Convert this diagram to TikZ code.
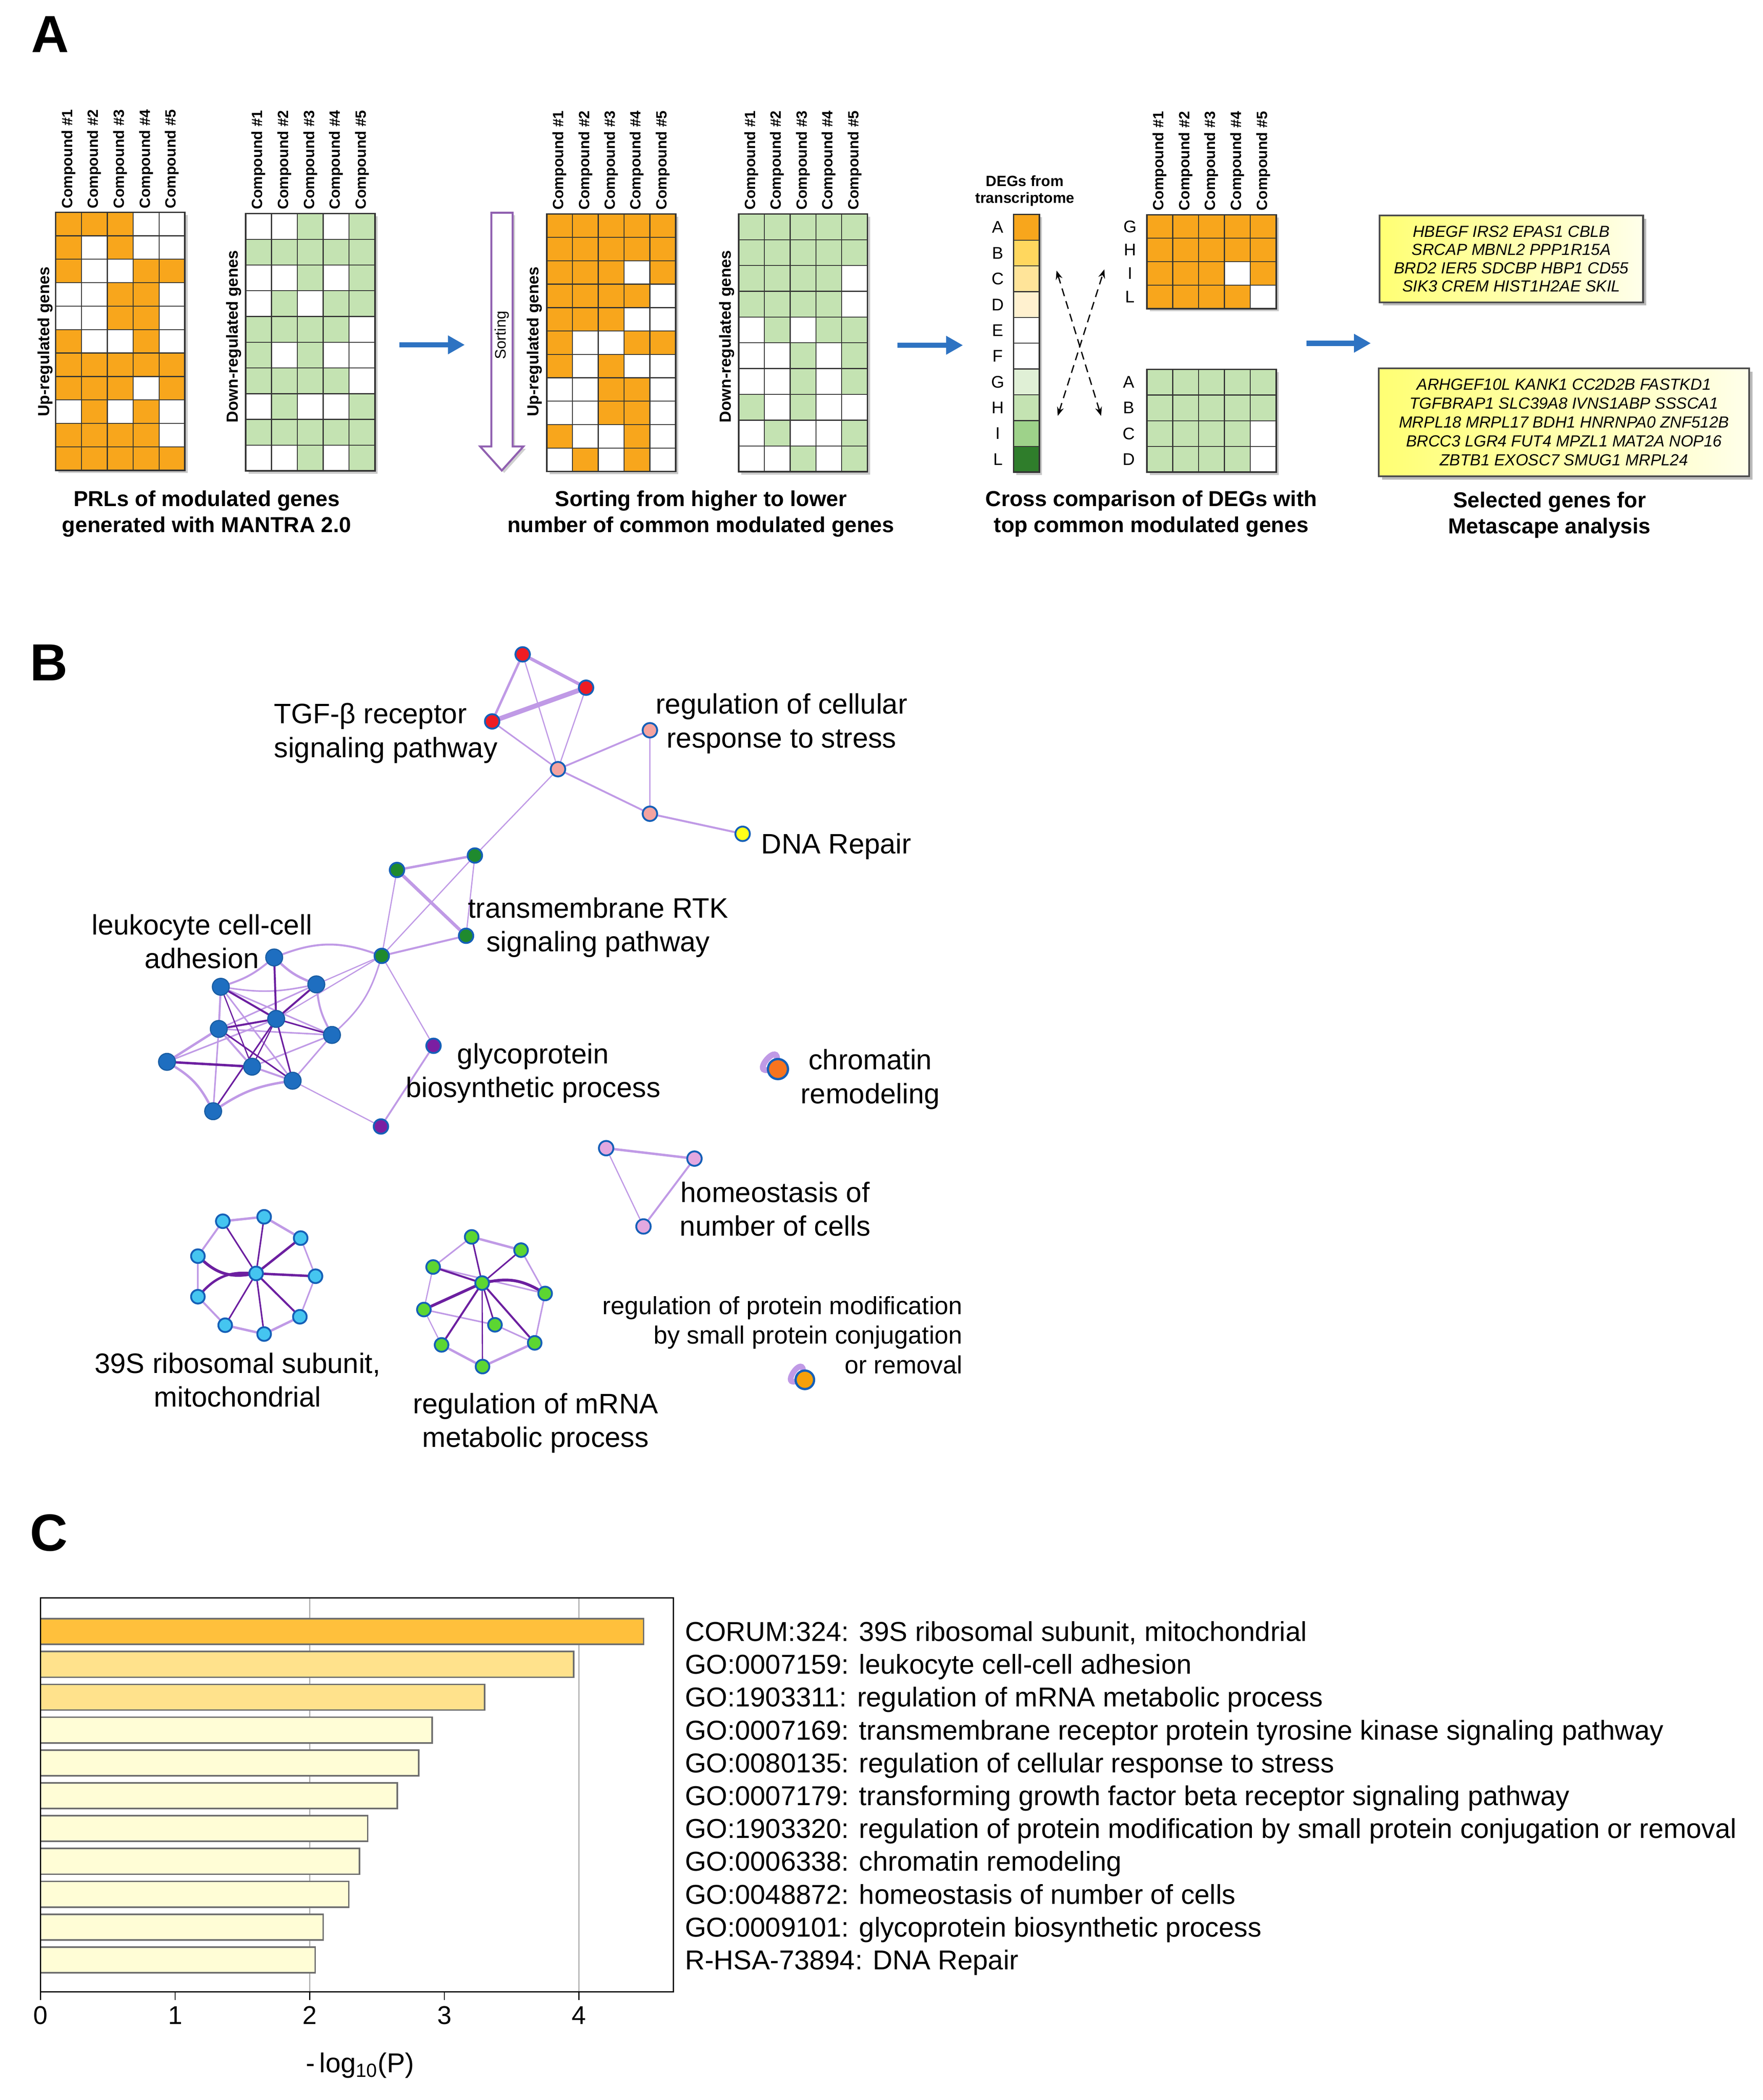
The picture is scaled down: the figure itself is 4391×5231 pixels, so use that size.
\documentclass[tikz,border=0pt]{standalone}
\usepackage{fontspec}
\setmainfont{Liberation Sans}
\usetikzlibrary{arrows.meta,shadows}
\pgfdeclarelayer{bgzero}
\pgfdeclarelayer{edges}
\pgfsetlayers{bgzero,edges,main}
\newcommand\fpx[1]{\fontsize{\dimexpr #1pt*2845/10000\relax}{\dimexpr #1pt*3414/10000\relax}\selectfont}
\newcommand\fpxl[2]{\fontsize{\dimexpr #1pt*2845/10000\relax}{\dimexpr #2pt*2845/10000\relax}\selectfont}
\definecolor{orangeg}{HTML}{F8A61C}
\definecolor{greeng}{HTML}{C4E3B2}
\definecolor{degB}{HTML}{FFD75E}
\definecolor{degC}{HTML}{FFE499}
\definecolor{degD}{HTML}{FFF1CF}
\definecolor{degG}{HTML}{E0F0D6}
\definecolor{degI}{HTML}{9ED28A}
\definecolor{degL}{HTML}{2F7D2B}
\definecolor{gridc}{HTML}{333333}
\definecolor{sortc}{HTML}{9060B0}
\definecolor{arrowblue}{HTML}{2E73C2}
\definecolor{nbord}{HTML}{1560B8}
\definecolor{cred}{HTML}{EE1C24}
\definecolor{csalmon}{HTML}{F4A3A0}
\definecolor{cyellow}{HTML}{FFFF1A}
\definecolor{cdgreen}{HTML}{1F8A2E}
\definecolor{cblue}{HTML}{1E6EC0}
\definecolor{cpurple}{HTML}{7B1FA2}
\definecolor{clilac}{HTML}{E3A8E0}
\definecolor{ccyan}{HTML}{45C5F0}
\definecolor{clgreen}{HTML}{5CD632}
\definecolor{corange}{HTML}{F7741E}
\definecolor{corangeb}{HTML}{F5A00A}
\definecolor{elight}{HTML}{C09AE6}
\definecolor{edark}{HTML}{6C1FA0}
\definecolor{barA}{HTML}{FFC03C}
\definecolor{barB}{HTML}{FFE28C}
\definecolor{barC}{HTML}{FFFDD6}
\definecolor{barline}{HTML}{6E6E6E}
\definecolor{vgrid}{HTML}{B4B4B4}
\tikzset{
  gridline/.style={draw=gridc, line width=0.7pt},
  gridframe/.style={draw=gridc, line width=1.1pt},
  complab/.style={rotate=90, anchor=west, inner sep=0pt, font=\bfseries\fpx{37}},
  genelab/.style={rotate=90, inner sep=0pt, font=\bfseries\fpx{40}},
  letlab/.style={inner sep=0pt, font=\fpx{42}},
  caplab/.style={font=\bfseries\fpxl{54}{65}, align=center, inner sep=0pt, anchor=north},
  panlab/.style={font=\bfseries\fpx{130}, inner sep=0pt, anchor=north west},
  genebox/.style={draw=black!70, line width=1.3pt, left color=yellow!55, right color=yellow!8,
     drop shadow={shadow xshift=0.08cm, shadow yshift=-0.08cm, fill=black!45, opacity=0.6},
     align=center, inner sep=0pt},
  bluearrow/.style={draw=arrowblue, line width=3.8pt, -{Triangle[length=0.42cm,width=0.44cm]}},
  dasharrow/.style={draw=black, line width=0.9pt, dash pattern=on 0.2cm off 0.13cm,
     {Stealth[length=0.22cm,width=0.17cm]}-{Stealth[length=0.22cm,width=0.17cm]}},
  blab/.style={font=\fpxl{70}{84}, align=center, inner sep=0pt, anchor=north},
  nd/.style={circle, inner sep=0pt, minimum size=0.36cm, draw=nbord, line width=1.3pt},
  nred/.style={nd, fill=cred},
  nsal/.style={nd, fill=csalmon},
  nyel/.style={nd, fill=cyellow},
  ndg/.style={nd, fill=cdgreen},
  nblue/.style={nd, fill=cblue, draw=cblue!85!black, minimum size=0.42cm, line width=0.8pt},
  npur/.style={nd, fill=cpurple},
  nlil/.style={nd, fill=clilac},
  ncy/.style={nd, fill=ccyan, minimum size=0.34cm},
  nlg/.style={nd, fill=clgreen, minimum size=0.34cm},
  ledge/.style={draw=elight, line width=#1, line cap=round},
  dedge/.style={draw=edark, line width=#1, line cap=round},
  barst/.style={draw=barline, line width=1.1pt},
  termlab/.style={font=\fpx{68}, anchor=base west, inner sep=0pt},
  ticklab/.style={font=\fpx{64}, anchor=north, inner sep=0pt}
}
% #1 x0, #2 y0, #3 rows, #4 cell w, #5 cell h, #6 colour, #7 pattern
\newcommand\drawgrid[7]{%
  \fill[black!35,opacity=0.6] ({#1+7},{#2+7}) rectangle ({#1+5*#4+7},{#2+#3*#5+7});
  \fill[white] (#1,#2) rectangle ({#1+5*#4},{#2+#3*#5});
  \foreach \row [count=\ri from 0] in {#7} {
    \foreach \v [count=\ci from 0] in \row {
      \ifnum\v=1 \fill[#6] ({#1+\ci*#4},{#2+\ri*#5}) rectangle ({#1+(\ci+1)*#4},{#2+(\ri+1)*#5});\fi
    }
  }
  \foreach \i in {1,...,4} \draw[gridline] ({#1+\i*#4},#2) -- ({#1+\i*#4},{#2+#3*#5});
  \pgfmathtruncatemacro\nrows{#3-1}
  \foreach \j in {1,...,\nrows} \draw[gridline] (#1,{#2+\j*#5}) -- ({#1+5*#4},{#2+\j*#5});
  \draw[gridframe] (#1,#2) rectangle ({#1+5*#4},{#2+#3*#5});
}
% #1 prefix, #2 x0, #3 cell w, #4 y bottom
\newcommand\complabels[4]{%
  \foreach \cn in {1,...,5} \node[complab] (#1-\cn) at ({#2+(\cn-0.5)*#3},#4) {Compound \#\cn};
}
\begin{document}
\begin{tikzpicture}[x=0.01cm,y=-0.01cm]
\useasboundingbox (0,0) rectangle (4391,5231);
\begin{pgfonlayer}{bgzero}
\fill[white] (0,0) rectangle (4391,5231);
\end{pgfonlayer}

% ================= PANEL A =================
\node[panlab] (lblA) at (77,40) {A};

\drawgrid{138.6}{529}{11}{64.4}{58.4}{orangeg}{{1,1,1,0,0},{1,0,1,0,0},{1,0,0,1,1},{0,0,1,1,0},{0,0,1,1,0},{1,0,0,1,0},{1,1,1,1,1},{1,1,1,0,1},{0,1,0,1,0},{1,1,1,1,0},{1,1,1,1,1}}
\complabels{ca}{138.6}{64.4}{520}
\node[genelab] (upA) at (113,851) {Up-regulated genes};

\drawgrid{612}{532}{10}{64.4}{64.1}{greeng}{{0,0,1,0,1},{1,1,1,1,1},{0,0,1,0,1},{0,1,0,1,1},{1,1,1,1,0},{1,0,1,0,0},{1,1,1,1,0},{0,1,0,0,1},{1,1,1,1,1},{0,0,1,0,1}}
\complabels{cb}{612}{64.4}{522}
\node[genelab] (dnA) at (582,838) {Down-regulated genes};

\node[caplab] (cap1) at (515,1221) {PRLs of modulated genes\\generated with MANTRA 2.0};

\coordinate (ba1s) at (995,859);
\coordinate (ba1e) at (1158,859);
\draw[bluearrow] (ba1s) -- (ba1e);

% sorting arrow
\fill[black!30,opacity=0.6,shift={(6,6)}] (1224,530) -- (1277,530) -- (1277,1112) -- (1304,1112) -- (1250,1172) -- (1196,1112) -- (1224,1112) -- cycle;
\draw[sortc, line width=1.4pt, fill=white, line join=miter] (1224,530) -- (1277,530) -- (1277,1112) -- (1304,1112) -- (1250,1172) -- (1196,1112) -- (1224,1112) -- cycle;
\node[rotate=90, inner sep=0pt, font=\fpx{38}] (sorttxt) at (1250,835) {Sorting};

\drawgrid{1362}{533}{11}{64.2}{58.3}{orangeg}{{1,1,1,1,1},{1,1,1,1,1},{1,1,1,0,1},{1,1,1,1,0},{1,1,1,0,0},{1,0,0,1,1},{1,0,1,0,0},{0,0,1,1,0},{0,0,1,1,0},{1,0,0,1,0},{0,1,0,1,0}}
\complabels{cc}{1362}{64.2}{523}
\node[genelab] (upB) at (1331,851) {Up-regulated genes};

\drawgrid{1840}{533}{10}{64.2}{64.2}{greeng}{{1,1,1,1,1},{1,1,1,1,1},{1,1,1,1,0},{1,1,1,1,0},{0,1,0,1,1},{0,0,1,0,1},{0,0,1,0,1},{1,0,1,0,0},{0,1,0,0,1},{0,0,1,0,1}}
\complabels{cd}{1840}{64.2}{523}
\node[genelab] (dnB) at (1811,838) {Down-regulated genes};

\node[caplab] (cap2) at (1746,1221) {Sorting from higher to lower\\number of common modulated genes};

\coordinate (ba2s) at (2236,860);
\coordinate (ba2e) at (2399,860);
\draw[bluearrow] (ba2s) -- (ba2e);

% DEG column
\node[font=\bfseries\fpxl{37}{42}, align=center, anchor=north, inner sep=0pt] (degtitle) at (2553,436) {DEGs from\\transcriptome};
\fill[black!35,opacity=0.6] (2532,541) rectangle (2596,1183);
\foreach \col [count=\i from 0] in {orangeg,degB,degC,degD,white,white,degG,greeng,degI,degL}
  \fill[\col] (2525,{534+\i*64.2}) rectangle (2589,{534+(\i+1)*64.2});
\foreach \j in {1,...,9} \draw[gridline] (2525,{534+\j*64.2}) -- (2589,{534+\j*64.2});
\draw[gridframe] (2525,534) rectangle (2589,1176);
\foreach \l [count=\i from 0] in {A,B,C,D,E,F,G,H,I,L}
  \node[letlab] (deg-\l) at (2486,{534+(\i+0.5)*64.2}) {\l};

\coordinate (dx1a) at (2635,1036);
\coordinate (dx1b) at (2751,671);
\coordinate (dx2a) at (2632,674);
\coordinate (dx2b) at (2743,1036);
\draw[dasharrow] (dx1a) -- (dx1b);
\draw[dasharrow] (dx2a) -- (dx2b);

\drawgrid{2857}{535}{4}{64.4}{58.4}{orangeg}{{1,1,1,1,1},{1,1,1,1,1},{1,1,1,0,1},{1,1,1,1,0}}
\complabels{ce}{2857}{64.4}{525}
\foreach \l [count=\i from 0] in {G,H,I,L}
  \node[letlab] (up-\l) at (2815,{535+(\i+0.5)*58.4}) {\l};

\drawgrid{2857}{920}{4}{64.4}{64}{greeng}{{1,1,1,1,1},{1,1,1,1,1},{1,1,1,1,0},{1,1,1,1,0}}
\foreach \l [count=\i from 0] in {A,B,C,D}
  \node[letlab] (dn-\l) at (2812,{920+(\i+0.5)*64}) {\l};

\node[caplab] (cap3) at (2868,1221) {Cross comparison of DEGs with\\top common modulated genes};

\coordinate (ba3s) at (3255,855);
\coordinate (ba3e) at (3415,855);
\draw[bluearrow] (ba3s) -- (ba3e);

\node[genebox, minimum width=6.56cm, minimum height=2.16cm, font=\itshape\fpxl{40}{45.5}] (gb1) at (3765,645)
  {HBEGF IRS2 EPAS1 CBLB\\SRCAP MBNL2 PPP1R15A\\BRD2 IER5 SDCBP HBP1 CD55\\SIK3 CREM HIST1H2AE SKIL};
\node[genebox, minimum width=9.22cm, minimum height=2.69cm, font=\itshape\fpxl{40}{47}] (gb2) at (3896,1052)
  {ARHGEF10L KANK1 CC2D2B FASTKD1\\TGFBRAP1 SLC39A8 IVNS1ABP SSSCA1\\MRPL18 MRPL17 BDH1 HNRNPA0 ZNF512B\\BRCC3 LGR4 FUT4 MPZL1 MAT2A NOP16\\ZBTB1 EXOSC7 SMUG1 MRPL24};

\node[caplab] (cap4) at (3860,1224) {Selected genes for\\Metascape analysis};

% ================= PANEL B =================
\node[panlab] (lblB) at (74,1605) {B};

\node[nred] (red1) at (1302,1630) {};
\node[nred] (red2) at (1460,1713) {};
\node[nred] (red3) at (1226,1797) {};
\node[nsal] (pk1) at (1390,1916) {};
\node[nsal] (pk2) at (1619,1819) {};
\node[nsal] (pk3) at (1619,2027) {};
\node[nyel] (yel) at (1850,2077) {};
\node[ndg] (g1) at (1183,2131) {};
\node[ndg] (g2) at (989,2167) {};
\node[ndg] (g3) at (1161,2331) {};
\node[ndg] (g4) at (951,2381) {};
\node[nblue] (b1) at (683,2385) {};
\node[nblue] (b2) at (550,2458) {};
\node[nblue] (b3) at (788,2452) {};
\node[nblue] (b4) at (688,2538) {};
\node[nblue] (b5) at (545,2563) {};
\node[nblue] (b6) at (827,2578) {};
\node[nblue] (b7) at (416,2645) {};
\node[nblue] (b8) at (628,2657) {};
\node[nblue] (b9) at (729,2692) {};
\node[nblue] (b10) at (531,2768) {};
\node[npur] (p1) at (1080,2605) {};
\node[npur] (p2) at (949,2806) {};
\node[nd, fill=corange, minimum size=0.5cm, line width=1.6pt] (chrom) at (1938,2663) {};
\node[nlil] (h1) at (1510,2860) {};
\node[nlil] (h2) at (1730,2886) {};
\node[nlil] (h3) at (1603,3055) {};
\node[ncy] (rc) at (638,3172) {};
\node[ncy] (r1) at (555,3042) {};
\node[ncy] (r2) at (658,3031) {};
\node[ncy] (r3) at (749,3084) {};
\node[ncy] (r4) at (493,3129) {};
\node[ncy] (r5) at (786,3179) {};
\node[ncy] (r6) at (493,3230) {};
\node[ncy] (r7) at (747,3280) {};
\node[ncy] (r8) at (561,3301) {};
\node[ncy] (r9) at (658,3323) {};
\node[nlg] (mc) at (1201,3196) {};
\node[nlg] (m1) at (1175,3081) {};
\node[nlg] (m2) at (1298,3114) {};
\node[nlg] (m3) at (1079,3156) {};
\node[nlg] (m4) at (1358,3222) {};
\node[nlg] (m5) at (1056,3262) {};
\node[nlg] (m6) at (1233,3300) {};
\node[nlg] (m7) at (1100,3350) {};
\node[nlg] (m8) at (1332,3345) {};
\node[nlg] (m9) at (1202,3404) {};
\node[nd, fill=corangeb, minimum size=0.46cm, line width=1.6pt] (pmod) at (2005,3437) {};

\begin{pgfonlayer}{edges}
\draw[ledge=2.3pt] (red1) -- (red2);
\draw[ledge=3.4pt] (red2) -- (red3);
\draw[ledge=1.7pt] (red1) -- (red3);
\draw[ledge=0.85pt] (red1) -- (pk1);
\draw[ledge=0.85pt] (red2) -- (pk1);
\draw[ledge=1.1pt] (red3) -- (pk1);
\draw[ledge=1.3pt] (pk1) -- (pk2);
\draw[ledge=1.3pt] (pk1) -- (pk3);
\draw[ledge=0.85pt] (pk2) -- (pk3);
\draw[ledge=1.4pt] (pk3) -- (yel);
\draw[ledge=0.85pt] (pk1) -- (g1);
\draw[ledge=1.7pt] (g1) -- (g2);
\draw[ledge=0.85pt] (g1) -- (g3);
\draw[ledge=0.85pt] (g1) -- (g4);
\draw[ledge=2.3pt] (g2) -- (g3);
\draw[ledge=0.85pt] (g2) -- (g4);
\draw[ledge=1.4pt] (g3) -- (g4);
\draw[ledge=1.4pt] (g4) to[bend right=20] (b1);
\draw[ledge=0.85pt] (g4) -- (b3);
\draw[ledge=0.85pt] (g4) -- (b4);
\draw[ledge=1.1pt] (g4) to[bend left=15] (b6);
\draw[ledge=0.85pt] (g4) -- (p1);
\draw[ledge=1.3pt] (p1) -- (p2);
\draw[ledge=0.85pt] (b9) -- (p2);
% leukocyte cluster
\draw[ledge=1.4pt] (b1) to[bend left=10] (b2);
\draw[ledge=1.7pt] (b1) to[bend right=10] (b3);
\draw[ledge=1.4pt] (b2) -- (b5);
\draw[ledge=1.1pt] (b2) to[bend right=10] (b3);
\draw[ledge=1.7pt] (b5) -- (b7);
\draw[ledge=1.7pt] (b7) to[bend left=15] (b10);
\draw[ledge=1.7pt] (b10) to[bend left=12] (b9);
\draw[ledge=1.1pt] (b9) -- (b6);
\draw[ledge=1.4pt] (b6) to[bend left=10] (b3);
\draw[ledge=1.4pt] (b5) -- (b8);
\draw[ledge=1.4pt] (b8) -- (b9);
\draw[ledge=1.1pt] (b5) -- (b6);
\draw[ledge=1.1pt] (b8) -- (b6);
\draw[ledge=1.1pt] (b2) -- (b9);
\draw[ledge=1.1pt] (b7) -- (b4);
\draw[ledge=1.1pt] (b3) -- (b5);
\draw[ledge=1.1pt] (b10) -- (b5);
\draw[ledge=1.1pt] (b2) -- (b6);
\draw[dedge=1.4pt] (b1) -- (b4);
\draw[dedge=1.4pt] (b3) -- (b4);
\draw[dedge=1.4pt] (b2) -- (b4);
\draw[dedge=1.4pt] (b4) -- (b5);
\draw[dedge=1.1pt] (b4) -- (b6);
\draw[dedge=1.1pt] (b4) -- (b10);
\draw[dedge=1.1pt] (b4) -- (b9);
\draw[dedge=0.85pt] (b4) -- (b8);
\draw[dedge=1.7pt] (b7) -- (b8);
\draw[dedge=1.1pt] (b5) -- (b9);
\draw[dedge=0.85pt] (b2) -- (b8);
% chromatin loop
\draw[ledge=4.2pt] (chrom) to[out=95,in=185,min distance=0.32cm] (chrom);
% homeostasis
\draw[ledge=1.7pt] (h1) -- (h2);
\draw[ledge=0.85pt] (h1) -- (h3);
\draw[ledge=1.4pt] (h2) -- (h3);
% ribosome cluster
\draw[ledge=1.7pt] (r1) -- (r2);
\draw[ledge=1.7pt] (r2) -- (r3);
\draw[ledge=1.1pt] (r3) -- (r5);
\draw[ledge=1.1pt] (r5) -- (r7);
\draw[ledge=1.7pt] (r7) -- (r9);
\draw[ledge=1.7pt] (r9) -- (r8);
\draw[ledge=1.4pt] (r8) -- (r6);
\draw[ledge=1.1pt] (r6) -- (r4);
\draw[ledge=1.4pt] (r4) -- (r1);
\draw[dedge=1.1pt] (rc) -- (r1);
\draw[dedge=1.1pt] (rc) -- (r2);
\draw[dedge=1.7pt] (rc) -- (r3);
\draw[dedge=2.0pt] (rc) to[bend left=25] (r4);
\draw[dedge=1.7pt] (rc) -- (r5);
\draw[dedge=1.7pt] (rc) to[bend right=25] (r6);
\draw[dedge=1.4pt] (rc) -- (r7);
\draw[dedge=1.1pt] (rc) -- (r8);
\draw[dedge=1.1pt] (rc) -- (r9);
% mRNA cluster
\draw[ledge=1.7pt] (m1) -- (m2);
\draw[ledge=1.1pt] (m1) -- (m3);
\draw[ledge=0.85pt] (m3) -- (m5);
\draw[ledge=0.85pt] (m5) -- (m7);
\draw[ledge=1.7pt] (m7) -- (m9);
\draw[ledge=1.7pt] (m9) -- (m8);
\draw[ledge=1.1pt] (m8) -- (m4);
\draw[ledge=1.1pt] (m4) -- (m2);
\draw[ledge=1.1pt] (m3) -- (m4);
\draw[ledge=1.1pt] (m6) -- (m8);
\draw[ledge=1.1pt] (m5) -- (m6);
\draw[dedge=1.1pt] (mc) -- (m1);
\draw[dedge=1.1pt] (mc) -- (m2);
\draw[dedge=1.4pt] (mc) -- (m3);
\draw[dedge=2.0pt] (mc) to[bend left=20] (m4);
\draw[dedge=2.0pt] (mc) -- (m5);
\draw[dedge=1.1pt] (mc) -- (m6);
\draw[dedge=1.4pt] (mc) -- (m7);
\draw[dedge=1.4pt] (mc) -- (m8);
\draw[dedge=0.85pt] (mc) -- (m9);
% protein modification loop
\draw[ledge=4.0pt] (pmod) to[out=100,in=190,min distance=0.3cm] (pmod);
\end{pgfonlayer}

\node[blab, align=left, anchor=north west] (tTGF) at (682,1751) {TGF-β receptor\\signaling pathway};
\node[blab] (tstress) at (1947,1727) {regulation of cellular\\response to stress};
\node[blab, anchor=west] (tDNA) at (1896,2108) {DNA Repair};
\node[blab] (tRTK) at (1490,2235) {transmembrane RTK\\signaling pathway};
\node[blab] (tleuk) at (503,2277) {leukocyte cell-cell\\adhesion};
\node[blab] (tglyc) at (1328,2598) {glycoprotein\\biosynthetic process};
\node[blab] (tchrom) at (2168,2613) {chromatin\\remodeling};
\node[blab] (thomeo) at (1931,2943) {homeostasis of\\number of cells};
\node[blab] (tribo) at (592,3369) {39S ribosomal subunit,\\mitochondrial};
\node[blab] (tmrna) at (1334,3469) {regulation of mRNA\\metabolic process};
\node[font=\fpxl{62}{74}, align=right, anchor=north east, inner sep=0pt] (tpmod) at (2398,3228)
  {regulation of protein modification\\by small protein conjugation\\or removal};

% ================= PANEL C =================
\node[panlab] (lblC) at (74,3772) {C};
\draw[vgrid, line width=0.7pt] (771.6,3980) -- (771.6,4962);
\draw[vgrid, line width=0.7pt] (1442.2,3980) -- (1442.2,4962);
\foreach \val/\colr [count=\i from 0] in {4.48/barA,3.96/barB,3.30/barB,2.91/barC,2.81/barC,2.65/barC,2.43/barC,2.37/barC,2.29/barC,2.10/barC,2.04/barC}
  \draw[barst, fill=\colr] (101,{4064+\i*81.8-32}) rectangle ({101+\val*335.3},{4064+\i*81.8+32});
\draw[black, line width=0.9pt] (101,3980) rectangle (1678,4962);
\foreach \k in {0,...,4} {
  \draw[black, line width=0.8pt] ({101+\k*335.3},4962) -- ({101+\k*335.3},4982);
  \node[ticklab] (tick\k) at ({101+\k*335.3},4997) {\k};
}
\node[font=\fpx{68}, inner sep=0pt] (xlab) at (897,5145) {-\,log\textsubscript{10}(P)};
\foreach \t [count=\i from 0] in {
  {CORUM:324: 39S ribosomal subunit, mitochondrial},
  {GO:0007159: leukocyte cell-cell adhesion},
  {GO:1903311: regulation of mRNA metabolic process},
  {GO:0007169: transmembrane receptor protein tyrosine kinase signaling pathway},
  {GO:0080135: regulation of cellular response to stress},
  {GO:0007179: transforming growth factor beta receptor signaling pathway},
  {GO:1903320: regulation of protein modification by small protein conjugation or removal},
  {GO:0006338: chromatin remodeling},
  {GO:0048872: homeostasis of number of cells},
  {GO:0009101: glycoprotein biosynthetic process},
  {R-HSA-73894: DNA Repair}}
  \node[termlab] (term\i) at (1706,{4064+\i*81.8+24}) {\t};
\end{tikzpicture}
\end{document}
